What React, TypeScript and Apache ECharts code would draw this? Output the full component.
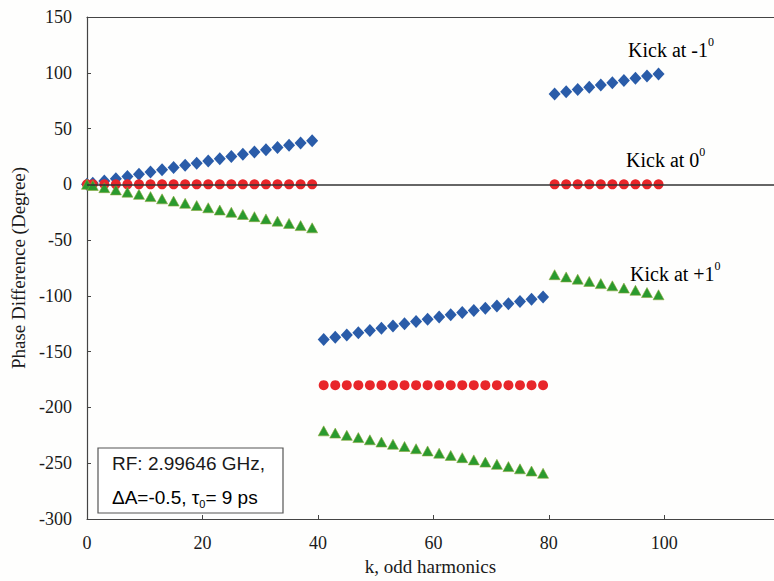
import React, { useEffect, useRef } from "react";
import * as echarts from "echarts";

const harmonics = [
  0, 1, 3, 5, 7, 9, 11, 13, 15, 17, 19, 21, 23, 25, 27, 29, 31, 33, 35, 37, 39,
  41, 43, 45, 47, 49, 51, 53, 55, 57, 59, 61, 63, 65, 67, 69, 71, 73, 75, 77, 79,
  81, 83, 85, 87, 89, 91, 93, 95, 97, 99,
];

const kickMinus1 = [
  0, 1, 3, 5, 7, 9, 11, 13, 15, 17, 19, 21, 23, 25, 27, 29, 31, 33, 35, 37, 39,
  -139, -137, -135, -133, -131, -129, -127, -125, -123, -121, -119, -117, -115, -113, -111, -109, -107, -105, -103, -101,
  81, 83, 85, 87, 89, 91, 93, 95, 97, 99,
];

const kickZero = [
  0, 0, 0, 0, 0, 0, 0, 0, 0, 0, 0, 0, 0, 0, 0, 0, 0, 0, 0, 0, 0,
  -180, -180, -180, -180, -180, -180, -180, -180, -180, -180, -180, -180, -180, -180, -180, -180, -180, -180, -180, -180,
  0, 0, 0, 0, 0, 0, 0, 0, 0, 0,
];

const kickPlus1 = [
  0, -1, -3, -5, -7, -9, -11, -13, -15, -17, -19, -21, -23, -25, -27, -29, -31, -33, -35, -37, -39,
  -221, -223, -225, -227, -229, -231, -233, -235, -237, -239, -241, -243, -245, -247, -249, -251, -253, -255, -257, -259,
  -81, -83, -85, -87, -89, -91, -93, -95, -97, -99,
];

const xTicks = [0, 20, 40, 60, 80, 100];

const zip = (ys: number[]) => harmonics.map((k, i) => [k, ys[i]]);

const SERIF = "'Liberation Serif', 'Times New Roman', serif";
const SANS = "'Liberation Sans', Arial, sans-serif";

export default function App() {
  const ref = useRef<HTMLDivElement>(null);
  useEffect(() => {
    if (!ref.current) return;
    const chart = echarts.init(ref.current, null, { renderer: "svg" });
    const kickRich = {
      base: { fontFamily: SERIF, fontSize: 20, color: "#1a1a1a", lineHeight: 24, verticalAlign: "bottom" },
      sup: { fontFamily: SERIF, fontSize: 12, color: "#1a1a1a", verticalAlign: "top", lineHeight: 24 },
    };
    chart.setOption({
      animation: false,
      backgroundColor: "#fefefd",
      grid: {
        left: 87,
        top: 17,
        right: 0,
        bottom: 61,
      },
      xAxis: [
        {
          type: "value",
          min: 0,
          max: 119,
          interval: 20,
          name: "k, odd harmonics",
          nameLocation: "middle",
          nameGap: 38,
          nameTextStyle: { fontFamily: SERIF, fontSize: 19, color: "#1a1a1a" },
          axisLine: { show: true, onZero: false, lineStyle: { color: "#444", width: 1.2 } },
          axisTick: { show: true, inside: true, length: 4, lineStyle: { color: "#444" } },
          splitLine: { show: false },
          axisLabel: {
            fontFamily: SERIF,
            fontSize: 18,
            color: "#1a1a1a",
            margin: 15,
            showMaxLabel: false,
            formatter: (v: number) => (xTicks.includes(v) ? String(v) : ""),
          },
        },
        {
          type: "value",
          position: "top",
          min: 0,
          max: 119,
          axisLine: { show: true, onZero: false, lineStyle: { color: "#444", width: 1.2 } },
          axisTick: { show: false },
          axisLabel: { show: false },
          splitLine: { show: false },
        },
      ],
      yAxis: {
        type: "value",
        min: -300,
        max: 150,
        interval: 50,
        name: "Phase Difference (Degree)",
        nameLocation: "middle",
        nameGap: 56,
        nameTextStyle: { fontFamily: SERIF, fontSize: 19, color: "#1a1a1a" },
        axisLine: { show: true, onZero: false, lineStyle: { color: "#444", width: 1.2 } },
        axisTick: { show: true, inside: true, length: 4, lineStyle: { color: "#444" } },
        splitLine: { show: false },
        axisLabel: { fontFamily: SERIF, fontSize: 18, color: "#1a1a1a", margin: 15 },
      },
      series: [
        {
          name: "zero",
          type: "line",
          data: [],
          markLine: {
            silent: true,
            symbol: ["none", "none"],
            label: { show: false },
            lineStyle: { color: "#333", width: 1.5, type: "solid" },
            data: [{ yAxis: 0 }],
          },
        },
        {
          name: "Kick at 0",
          type: "scatter",
          symbol: "circle",
          symbolSize: 10,
          itemStyle: { color: "#e8262a", opacity: 1 },
          data: zip(kickZero),
          z: 3,
        },
        {
          name: "Kick at -1",
          type: "scatter",
          symbol: "diamond",
          symbolSize: [12, 13],
          itemStyle: { color: "#2a5ca9", opacity: 1 },
          data: zip(kickMinus1),
          z: 2,
        },
        {
          name: "Kick at +1",
          type: "scatter",
          symbol: "triangle",
          symbolSize: [11, 10],
          itemStyle: { color: "#2a9a2e", borderColor: "#8aa83a", borderWidth: 0.6, opacity: 1 },
          data: zip(kickPlus1),
          z: 4,
        },
      ],
      graphic: [
        {
          type: "text",
          left: 628,
          top: 36,
          style: { rich: kickRich, text: "{base|Kick at -1}{sup|0}" },
        },
        {
          type: "text",
          left: 626,
          top: 146,
          style: { rich: kickRich, text: "{base|Kick at 0}{sup|0}" },
        },
        {
          type: "text",
          left: 630,
          top: 260,
          style: { rich: kickRich, text: "{base|Kick at +1}{sup|0}" },
        },
        {
          type: "rect",
          shape: { x: 98, y: 448, width: 185, height: 65 },
          style: { fill: "#ffffff", stroke: "#555", lineWidth: 1.2 },
          z: 10,
        },
        {
          type: "text",
          x: 112,
          y: 454,
          z: 11,
          style: {
            text: "RF: 2.99646 GHz,",
            fontFamily: SANS,
            fontSize: 19,
            fill: "#1a1a1a",
          },
        },
        {
          type: "text",
          x: 112,
          y: 485,
          z: 11,
          style: {
            rich: {
              t: { fontFamily: SANS, fontSize: 19, color: "#1a1a1a", lineHeight: 24, verticalAlign: "middle" },
              sub: { fontFamily: SANS, fontSize: 11, color: "#1a1a1a", verticalAlign: "bottom", lineHeight: 24 },
            },
            text: "{t|ΔA=-0.5, τ}{sub|0}{t|= 9 ps}",
          },
        },
      ],
    });
    return () => chart.dispose();
  }, []);
  return <div ref={ref} style={{ width: 774, height: 581, position: "absolute", left: 0, top: 0 }} />;
}
